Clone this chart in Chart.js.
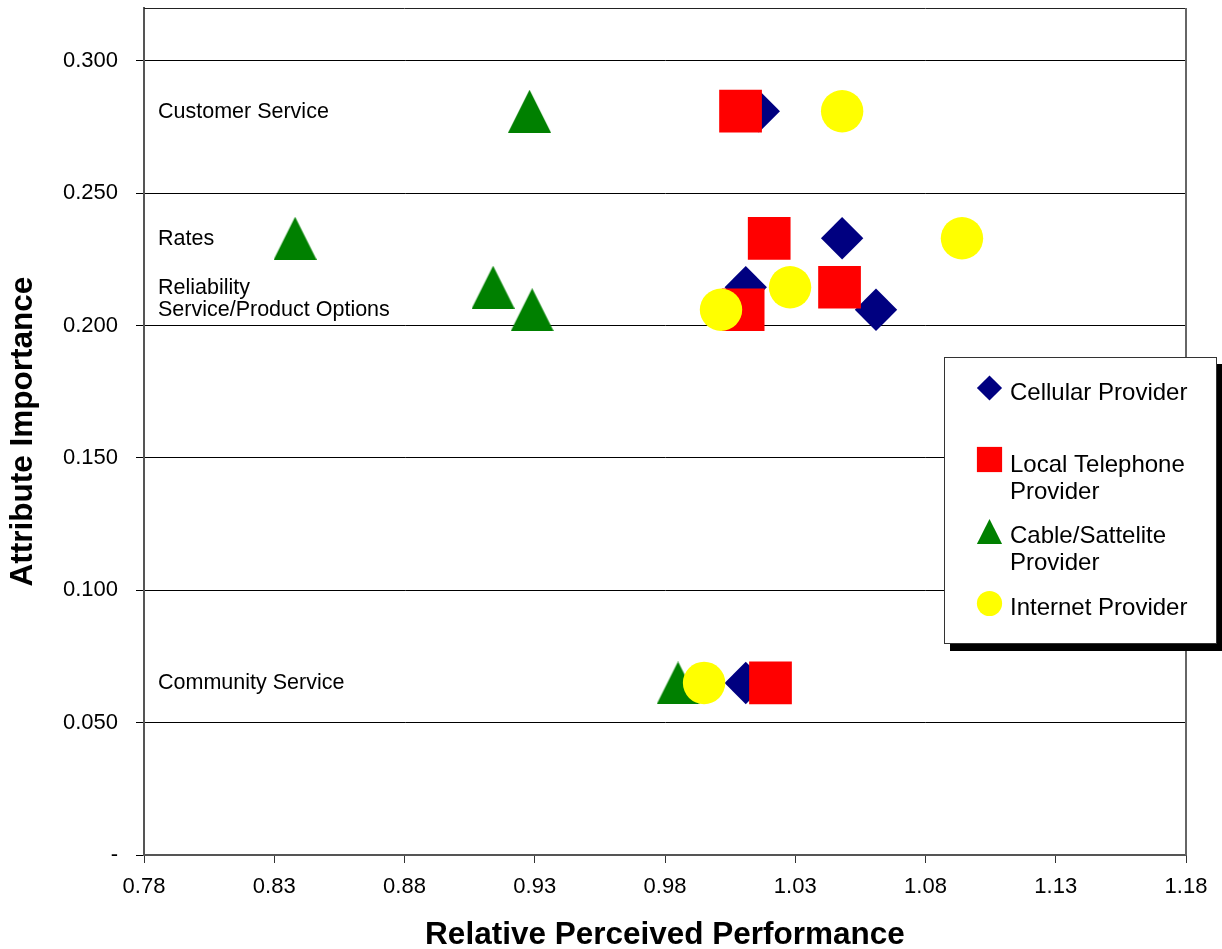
<!DOCTYPE html>
<html><head><meta charset="utf-8">
<script src="https://cdn.jsdelivr.net/npm/chart.js@4.4.0/dist/chart.umd.min.js"></script>
<style>html,body{margin:0;padding:0;background:#fff;overflow:hidden}#wrap{width:1222px;height:949px}</style>
</head><body><div id="wrap"><canvas id="c" width="1222" height="949"></canvas></div>
<script>
// ---- data ----
const categories = ['Customer Service', 'Rates', 'Reliability', 'Service/Product Options', 'Community Service'];
const importance = [0.281, 0.233, 0.2145, 0.206, 0.065];
const cellular = [1.016, 1.048, 1.011, 1.061, 1.011];
const localTel = [1.009, 1.020, 1.047, 1.010, 1.0205];
const cable = [0.928, 0.838, 0.914, 0.929, 0.985];
const internet = [1.048, 1.094, 1.028, 1.0015, 0.995];
const seriesNames = ['Cellular Provider', 'Local Telephone Provider', 'Cable/Sattelite Provider', 'Internet Provider'];
const legendLines = [['Cellular Provider'], ['Local Telephone', 'Provider'], ['Cable/Sattelite', 'Provider'], ['Internet Provider']];
const xTicks = [0.78, 0.83, 0.88, 0.93, 0.98, 1.03, 1.08, 1.13, 1.18];
const xTickLabels = ['0.78', '0.83', '0.88', '0.93', '0.98', '1.03', '1.08', '1.13', '1.18'];
const yTicks = [0, 0.05, 0.10, 0.15, 0.20, 0.25, 0.30];
const yTickLabels = ['-', '0.050', '0.100', '0.150', '0.200', '0.250', '0.300'];

// ---- styles ----
const FONT = "'Liberation Sans', Arial, sans-serif";
const COLORS = ['#000080', '#FF0000', '#008000', '#FFFF00'];
Chart.defaults.font.family = FONT;
Chart.defaults.color = '#000';

function triangleCanvas(size, color) {
  const c = document.createElement('canvas');
  c.width = size; c.height = size;
  const g = c.getContext('2d');
  g.fillStyle = color;
  g.beginPath();
  g.moveTo(size / 2, 0); g.lineTo(size, size); g.lineTo(0, size); g.closePath();
  g.fill();
  return c;
}
const triImg = triangleCanvas(43, COLORS[2]);

const pts = arr => arr.map((v, i) => ({ x: v, y: importance[i] }));

const frame = {
  id: 'frame',
  beforeDatasetsDraw(chart) {
    const { ctx, chartArea: a } = chart;
    ctx.save();
    ctx.strokeStyle = '#222'; ctx.lineWidth = 1;
    ctx.beginPath(); ctx.moveTo(a.left, a.top + 0.5); ctx.lineTo(a.right, a.top + 0.5); ctx.stroke();
    ctx.strokeStyle = '#666'; ctx.lineWidth = 2;
    ctx.beginPath(); ctx.moveTo(a.right, a.top); ctx.lineTo(a.right, a.bottom); ctx.stroke();
    // category labels
    ctx.fillStyle = '#000';
    ctx.font = '21.5px ' + FONT;
    ctx.textAlign = 'left'; ctx.textBaseline = 'alphabetic';
    const ys = chart.scales.y;
    categories.forEach((c, i) => {
      ctx.fillText(c, a.left + 14, ys.getPixelForValue(importance[i]) + 6.5);
    });
    ctx.restore();
  }
};

const legendBox = {
  id: 'legendBox',
  afterDraw(chart) {
    const { ctx, chartArea: a } = chart;
    const L = a.right - 242, T = a.top + 349, W = 273, H = 287;
    ctx.save();
    ctx.fillStyle = '#000';
    ctx.fillRect(L + 6, T + 7, W, H);
    ctx.fillStyle = '#fff';
    ctx.fillRect(L, T, W, H);
    ctx.strokeStyle = '#333'; ctx.lineWidth = 1;
    ctx.strokeRect(L + 0.5, T + 0.5, W - 1, H - 1);
    const cx = L + 45.5, s = 12.6;
    const iconY = [T + 31, T + 102.5, T + 174.5, T + 246.5];
    ctx.fillStyle = COLORS[0];
    ctx.beginPath(); ctx.moveTo(cx, iconY[0] - s); ctx.lineTo(cx + s, iconY[0]); ctx.lineTo(cx, iconY[0] + s); ctx.lineTo(cx - s, iconY[0]); ctx.closePath(); ctx.fill();
    ctx.fillStyle = COLORS[1];
    ctx.fillRect(cx - s, iconY[1] - s, 2 * s, 2 * s);
    ctx.fillStyle = COLORS[2];
    ctx.beginPath(); ctx.moveTo(cx, iconY[2] - s); ctx.lineTo(cx + s, iconY[2] + s); ctx.lineTo(cx - s, iconY[2] + s); ctx.closePath(); ctx.fill();
    ctx.fillStyle = COLORS[3];
    ctx.beginPath(); ctx.arc(cx, iconY[3], s, 0, Math.PI * 2); ctx.fill();
    ctx.fillStyle = '#000';
    ctx.font = '24px ' + FONT;
    ctx.textAlign = 'left'; ctx.textBaseline = 'alphabetic';
    const base = [[43], [115.3, 142], [186.3, 213], [258]];
    legendLines.forEach((lines, i) => {
      lines.forEach((t, j) => ctx.fillText(t, L + 66, T + base[i][j]));
    });
    ctx.restore();
  }
};

new Chart(document.getElementById('c'), {
  type: 'scatter',
  data: {
    datasets: [
      { label: seriesNames[0], data: pts(cellular), pointStyle: 'rectRot', pointRadius: 21.2, backgroundColor: COLORS[0], borderWidth: 0, order: 4 },
      { label: seriesNames[1], data: pts(localTel), pointStyle: 'rect', pointRadius: 30.2, backgroundColor: COLORS[1], borderWidth: 0, order: 3 },
      { label: seriesNames[2], data: pts(cable), pointStyle: triImg, pointRadius: 21, backgroundColor: COLORS[2], borderWidth: 0, order: 2 },
      { label: seriesNames[3], data: pts(internet), pointStyle: 'circle', pointRadius: 21.2, backgroundColor: COLORS[3], borderWidth: 0, order: 1 }
    ]
  },
  options: {
    responsive: false,
    animation: false,
    devicePixelRatio: 1,
    events: [],
    layout: { autoPadding: false, padding: { top: 8, right: 36, left: 0, bottom: 0 } },
    plugins: { legend: { display: false }, tooltip: { enabled: false } },
    scales: {
      x: {
        type: 'linear', min: 0.78, max: 1.18,
        afterBuildTicks: s => { s.ticks = xTicks.map(v => ({ value: v })); },
        afterFit: s => { s.height = 94; s.paddingLeft = 0; s.paddingRight = 0; },
        ticks: { callback: (v, i) => xTickLabels[i], font: { size: 22 }, color: '#000', padding: 11, maxRotation: 0, autoSkip: false },
        grid: { drawOnChartArea: false, drawTicks: true, tickLength: 8, color: '#333', lineWidth: 1 },
        border: { display: true, color: '#555', width: 2 },
        title: { display: true, text: 'Relative Perceived Performance', color: '#000', font: { size: 31.5, weight: 'bold', lineHeight: 0.9 }, padding: { top: 0, bottom: 0 } }
      },
      y: {
        type: 'linear', min: 0, max: 0.32,
        afterBuildTicks: s => { s.ticks = yTicks.map(v => ({ value: v })); },
        afterFit: s => { s.width = 144; s.paddingTop = 0; s.paddingBottom = 0; },
        ticks: { callback: (v, i) => yTickLabels[i], font: { size: 22 }, color: '#000', padding: 18, autoSkip: false },
        grid: { drawOnChartArea: true, drawTicks: true, tickLength: 8, color: '#000', lineWidth: 1 },
        border: { display: true, color: '#555', width: 2 },
        title: { display: true, text: 'Attribute Importance', color: '#000', font: { size: 31.5, weight: 'bold', lineHeight: 1 }, padding: { top: 8, bottom: 0 } }
      }
    }
  },
  plugins: [frame, legendBox]
});
</script>
</body></html>
